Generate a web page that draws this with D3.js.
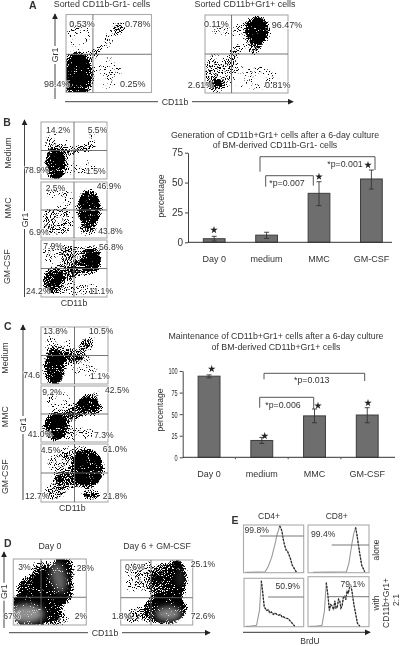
<!DOCTYPE html>
<html><head><meta charset="utf-8">
<script src="https://cdn.jsdelivr.net/npm/d3@7/dist/d3.min.js"></script>
<style>html,body{margin:0;background:#fff}svg{display:block;filter:blur(.4px)}text{font-family:"Liberation Sans",Arial,sans-serif;fill:#333}</style>
</head><body><svg id="c" width="400" height="646"></svg>
<script>
// ---------- bar chart data ----------
const categories = ["Day 0","medium","MMC","GM-CSF"];
const genMeans = [3,6,41,53];
const genLow   = [1,3.3,30.7,44.6];
const genHigh  = [5,8.4,50.7,60.5];
const genTicks = [0,25,50,75];
const maintMeans = [94,19.5,48,49];
const maintLow   = [92,16,40,40];
const maintHigh  = [95.5,23,56,57.5];
const maintTicks = [0,25,50,75,100];
// ---------- flow-plot density estimates: [x, y, spreadX, spreadY, density, rotation] (percent of plot) ----------
const densA1 = [[13,22,19,31,1],[32,48,9,9,.5],[50,68,26,8,.42,-45],[15,75,15,20,.36],[50,25,17,22,.34],[62,85,9,11,.44]];
const densA2 = [[63,80,15,19,1],[60,60,9,11,.66],[35,45,9,14,.55],[15,25,18,27,.5],[13,12,9,6,.85],[60,20,32,17,.35],[20,80,13,17,.33],[42,75,9,22,.42]];
const densB1 = [[22,27,16,30,1],[40,48,18,8,.66],[65,55,16,7,.7],[80,70,11,13,.43],[22,65,21,17,.42],[60,20,27,17,.35]];
const densB2 = [[73,52,19,34,.9],[72,68,15,18,1],[75,45,15,22,.95],[70,15,15,10,.66],[25,30,26,27,.52],[40,70,11,17,.4],[20,80,16,13,.35]];
const densB3 = [[77,65,15,24,1],[60,50,20,14,.7],[35,42,22,14,.7],[17,28,15,23,.92],[25,75,26,20,.44],[50,75,22,17,.47],[50,15,42,14,.42]];
const densC1 = [[20,30,16,34,1],[20,15,13,15,1],[50,50,17,12,.75],[67,70,11,12,.75],[35,45,17,10,.66],[80,80,9,9,.38],[25,70,21,20,.4],[65,30,22,20,.35]];
const densC2 = [[22,28,18,26,1],[40,45,18,12,.66],[70,68,17,17,.97],[80,60,12,13,.78],[55,55,17,14,.66],[25,75,21,17,.42],[50,15,32,14,.43],[85,85,11,9,.38]];
const densC3 = [[70,58,24,34,1],[68,70,21,22,1],[40,38,24,16,.74],[20,15,17,14,.62],[75,12,15,8,.9],[30,65,22,20,.48],[50,85,27,12,.48]];
const densD1 = [[25,25,30,30,1],[50,55,30,34,1],[68,82,15,24,1],[40,20,26,18,.9],[25,55,20,20,.88],[40,80,17,20,.6],[75,55,9,20,.7],[60,10,16,14,.58]];
const densD2 = [[78,70,14,32,1],[62,25,30,24,1],[60,65,20,32,.78],[35,75,15,27,.5],[28,15,20,14,.58],[10,10,9,9,.44],[15,75,13,27,.35]];
const lightD1 = [[18,17,24,14,.72],[62,72,10,24,.5,-12]];
const lightD2 = [[66,17,18,11,.66],[83,72,6,15,.18]];
// ---------- quadrant gates (percent of plot) ----------
const gateXs = [31.5,32,50,50,50,50,50,50,38,42];
const gateYs = [49,50,50,50,50,50,50,50,42,42];
// ---------- quadrant percentages ----------
const pctA = ["0.53%","0.78%","98.4%","0.25%","0.11%","96.47%","2.61%","0.81%"];
const pctB = ["14.2%","5.5%","78.9%","1.5%","2.5%","46.9%","6.9%","43.8%","7.9%","56.8%","24.2%","11.1%"];
const pctC = ["13.8%","10.5%","74.6","1.1%","9.2%","42.5%","41.0%","7.3%","4.5%","61.0%","12.7%","21.8%"];
const pctD = ["3%","28%","67%","2%","0.6%","25.1%","1.8%","72.6%"];
const pctE = ["99.8%","99.4%","50.9%","79.1%"];
// ---------- BrdU histograms (percent of frame) ----------
const histX1 = [3,36,41,47,52.5,56,58,60,62,64,66,68,71,73,76,78,81,88];
const histY1 = [1,2,13,34,62,83,90,100,96,88,72,60,48,46,37,30,16,1];
const histX2 = [8,63,67,72,75,78,80,84,88,93];
const histY2 = [1,2,20,62,83,97,83,48,16,2];
const histX3 = [3,10,21,26,29,31,34,36,38,41,43,46,49,52,55,58,61,64,66,70,74,78,81,85];
const histY3 = [1,1,3,35,97,76,41,38,34,36,29,31,26,29,26,24,26,20,21,18,17,11,7,1];
const histX4 = [3,12,23,27,30,33,35,37,39,42,44,46,48,50,52,54,56,58,60,62,64,66,68,70,72,75,81,85];
const histY4 = [1,1,3,33,90,60,33,45,43,35,53,38,40,56,53,38,43,60,63,55,73,68,80,84,73,47,7,1];

// ---------- drawing ----------
const svg = d3.select("#c");
const defs = svg.append("defs");
const st = defs.append("filter").attr("id","stipple").attr("filterUnits","userSpaceOnUse")
  .attr("x",0).attr("y",0).attr("width",400).attr("height",646).attr("color-interpolation-filters","sRGB");
st.append("feGaussianBlur").attr("in","SourceAlpha").attr("stdDeviation",2.2).attr("result","d");
st.append("feTurbulence").attr("type","fractalNoise").attr("baseFrequency",.95).attr("numOctaves",1).attr("seed",11).attr("result","t");
st.append("feColorMatrix").attr("in","t").attr("type","matrix").attr("values","0 0 0 0 0 0 0 0 0 0 0 0 0 0 0 0 0 0 2.4 -.7").attr("result","n");
st.append("feComposite").attr("in","d").attr("in2","n").attr("operator","arithmetic")
  .attr("k1",0).attr("k2",1.25).attr("k3",1).attr("k4",-1.25).attr("result","m");
st.append("feComponentTransfer").attr("in","m").append("feFuncA").attr("type","linear").attr("slope",8).attr("intercept",0);
defs.append("filter").attr("id","soft").attr("x","-50%").attr("y","-50%").attr("width","200%").attr("height","200%")
  .append("feGaussianBlur").attr("stdDeviation",3);
defs.append("marker").attr("id","arr").attr("viewBox","0 0 8 8").attr("refX",7).attr("refY",4)
  .attr("markerWidth",6).attr("markerHeight",6).attr("markerUnits","userSpaceOnUse").attr("orient","auto")
  .append("path").attr("d","M0,0L8,4L0,8Z").attr("fill","#222");

function txt(x,y,s,size,opt={}){
  const t = svg.append("text").attr("x",x).attr("y",y).attr("font-size",size).text(s)
    .attr("text-anchor",opt.anchor||"start");
  if(opt.bold) t.attr("font-weight","bold");
  if(opt.rot!=null){t.attr("transform",`rotate(${opt.rot},${x},${y})`);}
  return t;
}
function arrow(x1,y1,x2,y2,label,lx,ly,gap){
  const vert = x1===x2;
  const segs = vert
    ? [[x1,y1,x1,ly+gap],[x1,ly-gap,x2,y2]]
    : [[x1,y1,lx-gap,y1],[lx+gap,y1,x2,y2]];
  segs.forEach((s,i)=>{
    const l = svg.append("line").attr("x1",s[0]).attr("y1",s[1]).attr("x2",s[2]).attr("y2",s[3])
      .attr("stroke","#444").attr("stroke-width",1);
    if(i===1) l.attr("marker-end","url(#arr)");
  });
  if(vert) txt(lx+3,ly,label,8.8,{anchor:"middle",rot:-90});
  else txt(lx,ly+3,label,8.8,{anchor:"middle"});
}
let clipN = 0;
function flow(box,dens,gx,gy,light){
  const [l,t,r,b] = box;
  const x = d3.scaleLinear().domain([0,100]).range([l,r]);
  const y = d3.scaleLinear().domain([0,100]).range([b,t]);
  const id = "cp"+(clipN++);
  defs.append("clipPath").attr("id",id).append("rect").attr("x",l).attr("y",t).attr("width",r-l).attr("height",b-t);
  const outer = svg.append("g").attr("clip-path",`url(#${id})`);
  const draw = (g,arr,fill)=>g.selectAll("ellipse").data(arr).join("ellipse")
    .attr("cx",d=>x(d[0])).attr("cy",d=>y(d[1]))
    .attr("rx",d=>x(d[2])-x(0)).attr("ry",d=>y(0)-y(d[3]))
    .attr("fill",fill).attr("fill-opacity",d=>d[4])
    .attr("transform",d=>d[5]?`rotate(${d[5]},${x(d[0])},${y(d[1])})`:null);
  draw(outer.append("g").attr("filter","url(#stipple)"),dens,"#000");
  if(light) draw(outer.append("g").attr("filter","url(#soft)"),light,"#c8c8c8");
  svg.append("rect").attr("x",l).attr("y",t).attr("width",r-l).attr("height",b-t)
    .attr("fill","none").attr("stroke","#aaa").attr("stroke-width",1.1);
  const gate = svg.append("g").attr("stroke","#666").attr("stroke-width",.9);
  gate.append("line").attr("x1",x(gx)).attr("x2",x(gx)).attr("y1",t).attr("y2",b);
  gate.append("line").attr("x1",l).attr("x2",r).attr("y1",y(gy)).attr("y2",y(gy));
}
// quadrant percentages carry a faint white halo so they stay legible over the dark clouds
function labels(arr,pos,size){arr.forEach((s,i)=>txt(pos[i][0],pos[i][1],s,size)
  .attr("stroke","#fff").attr("stroke-width",1.6).attr("stroke-opacity",.7).attr("paint-order","stroke"));}

// Panel A
txt(29,9,"A",10.5,{bold:true});
txt(102,7,"Sorted CD11b-Gr1- cells",8.9,{anchor:"middle"});
txt(245,7,"Sorted CD11b+Gr1+ cells",8.9,{anchor:"middle"});
flow([66,14.5,151.5,92.5],densA1,gateXs[0],gateYs[0]);
flow([205,15,288,93],densA2,gateXs[1],gateYs[1]);
arrow(55,99,55,14,"Gr1",55,55,9);
arrow(65,101.7,293,101.7,"CD11b",175,101.7,17);
labels(pctA,[[69.3,26.7],[125,27],[44,86.7],[120,87.3],[204,26.7],[271.7,28.3],[187.7,87.7],[265,87.7]],9);

// Panel B
txt(3.3,126,"B",10.5,{bold:true});
const rowsB=[[122,179],[182,238],[240,297]];
rowsB.forEach((r,i)=>flow([41,r[0],107,r[1]],[densB1,densB2,densB3][i],gateXs[2+i],gateYs[2+i]));
arrow(24.5,297,24.5,120,"Gr1",24.5,220,9);
txt(74,305.5,"CD11b",8.8,{anchor:"middle"});
labels(pctB,[[46,132.7],[87.7,132.7],[24.3,173.3],[86,174.3],[45.7,191],[96.7,189.3],[29,235],[98.3,234],[43.3,249.3],[99,250],[26,294.3],[89.3,294]],8.6);
[["Medium",153],["MMC",208],["GM-CSF",266.7]].forEach(d=>txt(10.5,d[1],d[0],8.8,{anchor:"middle",rot:-90}));

// Panel C
txt(4,330,"C",10.5,{bold:true});
const rowsC=[[327,384],[386,442],[444,502]];
rowsC.forEach((r,i)=>flow([41,r[0],108,r[1]],[densC1,densC2,densC3][i],gateXs[5+i],gateYs[5+i]));
arrow(23,500,23,325,"Gr1",23,425,9);
txt(72.3,510.5,"CD11b",8.8,{anchor:"middle"});
labels(pctC,[[43.3,334.3],[89,334],[23.3,378.3],[90,379],[42.3,395],[105,393.3],[27.7,437.3],[94,438.3],[40.7,453.3],[102.7,452.3],[25,499.3],[102.7,499.3]],8.6);
[["Medium",358],["MMC",416.7],["GM-CSF",476.7]].forEach(d=>txt(8,d[1],d[0],8.8,{anchor:"middle",rot:-90}));

// Bar charts
function bars(o){
  const x = d3.scaleBand().domain(categories).range(o.xr).paddingInner(.585).paddingOuter(.2925);
  const y = d3.scaleLinear().domain(o.dom).range(o.yr);
  const g = svg.append("g");
  g.selectAll("rect").data(o.means).join("rect")
    .attr("x",(d,i)=>x(categories[i])).attr("width",x.bandwidth())
    .attr("y",d=>y(d)).attr("height",d=>y(0)-y(d))
    .attr("fill","#6e6e6e").attr("stroke","#3d3d3d").attr("stroke-width",1);
  const cx = i=>x(categories[i])+x.bandwidth()/2;
  const e = g.append("g").attr("stroke","#333").attr("stroke-width",.9);
  o.means.forEach((m,i)=>{
    e.append("line").attr("x1",cx(i)).attr("x2",cx(i)).attr("y1",y(o.low[i])).attr("y2",y(o.high[i]));
    [o.low[i],o.high[i]].forEach(v=>e.append("line").attr("x1",cx(i)-2.5).attr("x2",cx(i)+2.5).attr("y1",y(v)).attr("y2",y(v)));
  });
  const ax = svg.append("g").attr("transform",`translate(${o.xr[0]},0)`)
    .call(d3.axisLeft(y).tickValues(o.ticks).tickSize(3).tickSizeOuter(0).tickPadding(o.tp));
  ax.selectAll("path,line").attr("stroke","#444");
  ax.selectAll("text").attr("font-size",o.fs).attr("font-family",null);
  if(o.cond) ax.selectAll("text").attr("x",0).attr("transform",`translate(-5,0) scale(${o.cond},1)`);
  const bx = svg.append("g").attr("transform",`translate(0,${o.yr[0]})`)
    .call(d3.axisBottom(x).tickSize(0).tickPadding(o.lp));
  bx.select("path").attr("stroke","#333").attr("d",`M${o.xr[0]},0H${o.xe}`);
  bx.selectAll("text").attr("font-size",9).attr("font-family",null);
  if(o.minor){
    const s = x.step();
    [1,2,3].forEach(k=>svg.append("line").attr("x1",o.xr[0]+k*s).attr("x2",o.xr[0]+k*s)
      .attr("y1",o.yr[0]).attr("y2",o.yr[0]+2).attr("stroke","#555"));
  }
  o.title.forEach((s,i)=>txt(o.tx,o.ty[i],s,8.8,{anchor:"middle"}));
  txt(o.px,o.py,"percentage",8.6,{anchor:"middle",rot:-90});
  o.brk.forEach(b=>{
    svg.append("path").attr("fill","none").attr("stroke","#555").attr("stroke-width",1)
      .attr("d",`M${b[0]},${b[1]}V${b[2]}H${b[3]}V${b[4]}`);
    txt(b[5],b[6],b[7],8.8,{anchor:"middle"});
  });
  o.stars.forEach(s=>svg.append("path").attr("d",d3.symbol(d3.symbolStar,17)())
    .attr("transform",`translate(${s[0]},${s[1]})`).attr("fill","#222"));
}
bars({means:genMeans,low:genLow,high:genHigh,ticks:genTicks,dom:[0,75],xr:[188,397.6],xe:392,yr:[242.3,152.7],
  tp:2,fs:10,lp:13,title:["Generation of CD11b+Gr1+ cells after a 6-day culture","of BM-derived CD11b-Gr1- cells"],
  tx:275,ty:[137.5,147.5],px:164,py:196,
  brk:[[260,171.7,156.7,375,170,345,167,"*p=0.001"],[265.7,186.7,175.7,313.3,185.7,287,186,"*p=0.007"]],
  stars:[[214,230],[319,176.7],[368,165]]});
bars({means:maintMeans,low:maintLow,high:maintHigh,ticks:maintTicks,dom:[0,100],xr:[182.7,393.6],xe:395,yr:[457.3,371],
  tp:2,fs:9,cond:.62,lp:13,minor:true,title:["Maintenance of CD11b+Gr1+ cells after a 6-day culture","of BM-derived CD11b+Gr1+ cells"],
  tx:276,ty:[339,349.5],px:163,py:410,
  brk:[[264,379.3,373.3,364.7,381,311.7,383,"*p=0.013"],[259.7,407.7,397.3,313.7,409,283,407.7,"*p=0.006"]],
  stars:[[211.7,369],[264.7,436],[318,405.7],[368,403]]});

// Panel D
txt(4,546.7,"D",10.5,{bold:true});
txt(50,549,"Day 0",8.8,{anchor:"middle"});
txt(157,549,"Day 6 + GM-CSF",8.8,{anchor:"middle"});
flow([13.3,559,86.3,625],densD1,gateXs[8],gateYs[8],lightD1);
flow([120.7,560,192.7,625],densD2,gateXs[9],gateYs[9],lightD2);
arrow(4,628,4,552,"Gr1",4.5,591.7,9);
arrow(9,632.7,210,632.7,"CD11b",105,632.7,17);
labels(pctD,[[18.3,570],[76.7,570.7],[3.3,619.3],[74.7,619.3],[125,570],[190.7,567.3],[111.7,619.3],[190.7,619.3]],8.6);

// Panel E
txt(231.5,524,"E",10.5,{bold:true});
txt(269,519,"CD4+",8.5,{anchor:"middle"});
txt(336.7,519,"CD8+",8.5,{anchor:"middle"});
const hBoxes=[[243.5,525,303.7,572.7],[308,525,369,572.7],[244,578.3,303.7,626.7],[308,576.7,369,626.7]];
const hX=[histX1,histX2,histX3,histX4], hY=[histY1,histY2,histY3,histY4];
const hGate=[[260,536],[331.7,545],[268,597],[326.7,596.7]];
hBoxes.forEach((b,i)=>{
  const x=d3.scaleLinear().domain([0,100]).range([b[0],b[2]]);
  const y=d3.scaleLinear().domain([0,100]).range([b[3],b[1]+1]);
  const line=d3.line().x(d=>x(d[0])).y(d=>y(d[1]));
  const pts=hX[i].map((v,k)=>[v,hY[i][k]]);
  svg.append("rect").attr("x",b[0]).attr("y",b[1]).attr("width",b[2]-b[0]).attr("height",b[3]-b[1])
    .attr("fill","#fff").attr("stroke","#aaa").attr("stroke-width",1.1);
  svg.append("path").attr("d",line(pts)).attr("fill","none").attr("stroke","#999").attr("stroke-width",1.1);
  svg.append("path").attr("d",line(pts.filter(p=>p[1]>0&&p[0]>hX[i][hY[i].indexOf(d3.max(hY[i]))]-2)))
    .attr("fill","none").attr("stroke","#222").attr("stroke-width",1.2).attr("stroke-dasharray","2 1.4");
  svg.append("line").attr("x1",hGate[i][0]).attr("x2",b[2]).attr("y1",hGate[i][1]).attr("y2",hGate[i][1]).attr("stroke","#777");
});
labels(pctE,[[244.5,533],[311,537],[275.5,589],[340.5,587]],8.6);
txt(378.5,550,"alone",8.5,{anchor:"middle",rot:-90});
txt(379,603,"with",8.5,{anchor:"middle",rot:-90});
txt(389,603,"CD11b+Gr1+",8.5,{anchor:"middle",rot:-90});
txt(399,600,"2:1",8.5,{anchor:"middle",rot:-90});
svg.append("line").attr("x1",243).attr("x2",370).attr("y1",632.3).attr("y2",632.3).attr("stroke","#333").attr("marker-end","url(#arr)");
txt(310,644,"BrdU",8.5,{anchor:"middle"});
</script></body></html>
